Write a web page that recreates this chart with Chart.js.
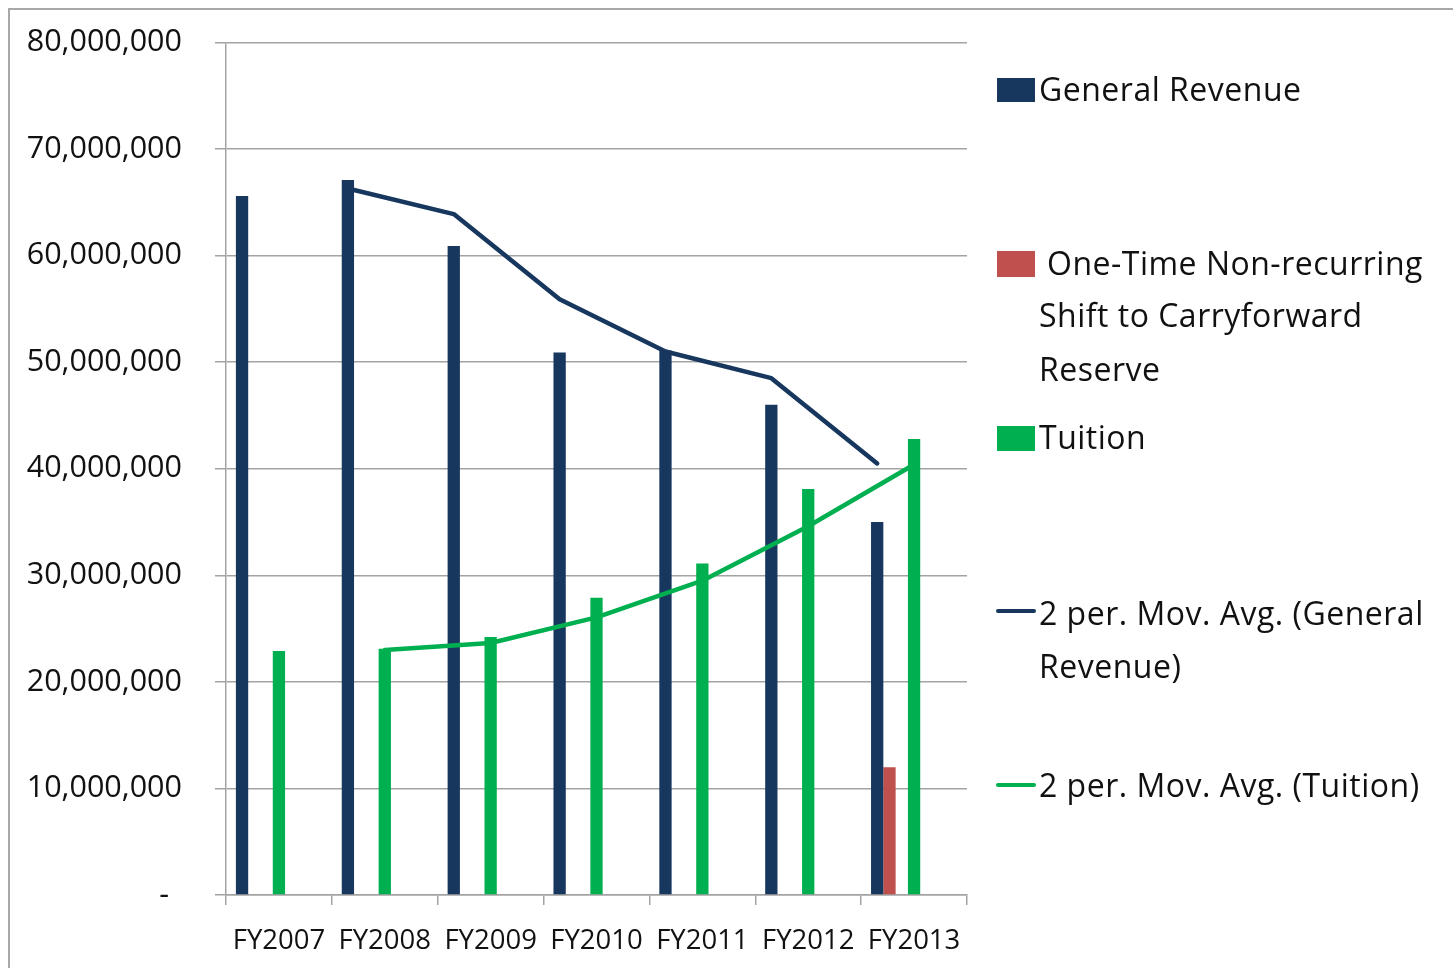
<!DOCTYPE html>
<html>
<head>
<meta charset="utf-8">
<script src="https://cdn.jsdelivr.net/npm/chart.js@4.4.1/dist/chart.umd.min.js"></script>
<style>
  html, body { margin: 0; padding: 0; background: #fff; }
  #wrap { position: relative; width: 1453px; height: 968px; overflow: hidden; }
  #frame { position: absolute; left: 8px; top: 8px; width: 1460px; height: 980px;
           border-top: 2px solid #a8a8a8; border-left: 2px solid #a8a8a8; box-sizing: border-box; }
  canvas { position: absolute; left: 0; top: 0; }
  .lg { position: absolute; font-family: "Open Sans", sans-serif; font-size: 32px; line-height: 32px;
        letter-spacing: 0.5px; color: #111; white-space: nowrap; }
  .sw { position: absolute; }
</style>
</head>
<body>
<div id="wrap">
  <div id="frame"></div>
  <canvas id="c" width="1453" height="968"></canvas>
  <div id="legend"></div>
</div>
<script>
// ---- data ----
const categories = ["FY2007", "FY2008", "FY2009", "FY2010", "FY2011", "FY2012", "FY2013"];
const generalRevenue = [65600000, 67100000, 60900000, 50900000, 51100000, 46000000, 35000000];
const oneTimeShift   = [null, null, null, null, null, null, 12000000];
const tuition        = [22900000, 23100000, 24200000, 27900000, 31100000, 38100000, 42800000];
const movAvgGeneral  = [null, 66300000, 63900000, 55900000, 51000000, 48500000, 40500000];
const movAvgTuition  = [null, 23000000, 23650000, 26050000, 29500000, 34600000, 40400000];
const yTickValues    = [0, 10000000, 20000000, 30000000, 40000000, 50000000, 60000000, 70000000, 80000000];

const NAVY = "#17375E", RED = "#C0504D", GREEN = "#00B050";
const GRID = "#a3a3a3", TXT = "#111111";
const FONT = '"Open Sans", sans-serif';

// move trendline points onto the bar positions of the series they follow
const alignTrend = {
  id: "alignTrend",
  afterDatasetsUpdate(chart) {
    chart.data.datasets.forEach((ds, i) => {
      if (ds.followBars === undefined) return;
      const meta = chart.getDatasetMeta(i);
      const bars = chart.getDatasetMeta(ds.followBars);
      meta.data.forEach((pt, j) => { if (bars.data[j]) pt.x = bars.data[j].x; });
      if (meta.dataset) meta.dataset._path = undefined;
    });
  }
};

const spacer = () => ({ type: "bar", label: "", data: categories.map(() => null), backgroundColor: "rgba(0,0,0,0)" });

function build() {
  new Chart(document.getElementById("c"), {
    data: {
      labels: categories,
      datasets: [
        { type: "line", label: "2 per. Mov. Avg. (General Revenue)", data: movAvgGeneral, borderColor: NAVY,
          borderWidth: 4.5, pointRadius: 0, tension: 0, borderJoinStyle: "round", borderCapStyle: "round",
          order: -1, followBars: 2, spanGaps: false },
        { type: "line", label: "2 per. Mov. Avg. (Tuition)", data: movAvgTuition, borderColor: GREEN,
          borderWidth: 4.5, pointRadius: 0, tension: 0, borderJoinStyle: "round", borderCapStyle: "round",
          order: -1, followBars: 5 },
        { type: "bar", label: "General Revenue", data: generalRevenue, backgroundColor: NAVY },
        { type: "bar", label: "One-Time Non-recurring Shift to Carryforward Reserve", data: oneTimeShift, backgroundColor: RED },
        spacer(),
        { type: "bar", label: "Tuition", data: tuition, backgroundColor: GREEN },
        spacer(), spacer(), spacer()
      ]
    },
    options: {
      responsive: false,
      animation: false,
      devicePixelRatio: 1,
      datasets: { bar: { categoryPercentage: 0.813, barPercentage: 1.0 } },
      layout: { padding: { left: 0, top: 42.5, right: 486, bottom: 0 } },
      plugins: { legend: { display: false }, tooltip: { enabled: false } },
      scales: {
        x: {
          grid: { drawOnChartArea: false, drawTicks: true, tickLength: 10, color: GRID, lineWidth: 1.5, offset: true },
          border: { color: GRID, width: 1.5 },
          ticks: { font: { family: FONT, size: 27.5 }, color: TXT, padding: 20, maxRotation: 0, autoSkip: false },
          afterFit(s) { s.height = 73; }
        },
        y: {
          min: 0, max: 80000000,
          afterBuildTicks(s) { s.ticks = yTickValues.map(v => ({ value: v })); },
          ticks: {
            font: { family: FONT, size: 30.5 }, color: TXT, padding: 33,
            callback: v => v === 0 ? "-\u00a0\u2009" : Number(v).toLocaleString("en-US")
          },
          grid: { color: GRID, lineWidth: 1.5, tickLength: 11 },
          border: { color: GRID, width: 1.5 },
          afterFit(s) { s.width = 226; s.paddingTop = 0; s.paddingBottom = 0; }
        }
      }
    },
    plugins: [alignTrend]
  });
}

// ---- legend (HTML text) ----
const legendItems = [
  { kind: "box", color: NAVY, lines: ["General Revenue"], y: [90], box: [78, 24], indent: 0 },
  { kind: "box", color: RED, lines: ["One-Time Non-recurring", "Shift to Carryforward", "Reserve"], y: [264, 316, 370], box: [251, 26], indent: 8 },
  { kind: "box", color: GREEN, lines: ["Tuition"], y: [438], box: [426, 25], indent: 0 },
  { kind: "line", color: NAVY, lines: ["2 per. Mov. Avg. (General", "Revenue)"], y: [614, 667], lineY: 611 },
  { kind: "line", color: GREEN, lines: ["2 per. Mov. Avg. (Tuition)"], y: [786], lineY: 785 }
];
function buildLegend() {
  const L = document.getElementById("legend");
  legendItems.forEach(it => {
    const s = document.createElement("div");
    s.className = "sw";
    s.style.background = it.color;
    if (it.kind === "box") {
      s.style.left = "997px"; s.style.width = "38px";
      s.style.top = it.box[0] + "px"; s.style.height = it.box[1] + "px";
    } else {
      s.style.left = "996px"; s.style.width = "40px";
      s.style.top = (it.lineY - 2) + "px"; s.style.height = "4px"; s.style.borderRadius = "2px";
    }
    L.appendChild(s);
    it.lines.forEach((t, k) => {
      const d = document.createElement("div");
      d.className = "lg";
      d.textContent = t;
      d.style.left = (1039 + (k === 0 && it.indent ? it.indent : 0)) + "px";
      d.style.top = (it.y[k] - 17) + "px";
      L.appendChild(d);
    });
  });
}

buildLegend();
if (document.fonts && document.fonts.load) {
  Promise.all([document.fonts.load('30px "Open Sans"')]).then(build, build);
} else { build(); }
</script>
</body>
</html>
